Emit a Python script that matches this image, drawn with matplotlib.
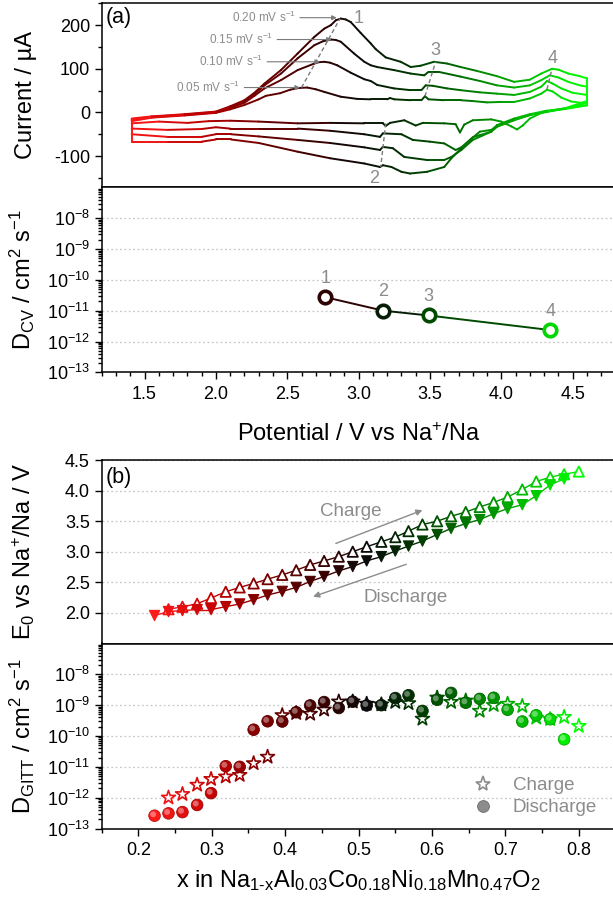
import numpy as np
import matplotlib
matplotlib.use('Agg')
import matplotlib.pyplot as plt
from matplotlib.colors import LinearSegmentedColormap, to_rgb
from matplotlib.collections import LineCollection
from matplotlib.ticker import MultipleLocator, FixedLocator, LogLocator, NullFormatter, LogFormatterMathtext, FormatStrFormatter
from matplotlib.lines import Line2D
import matplotlib.transforms as mtransforms

plt.rcParams['font.family'] = ['Liberation Sans', 'DejaVu Sans']
plt.rcParams['mathtext.fontset'] = 'custom'
plt.rcParams['mathtext.rm'] = 'Liberation Sans'
plt.rcParams['mathtext.it'] = 'Liberation Sans:italic'
plt.rcParams['mathtext.bf'] = 'Liberation Sans:bold'
plt.rcParams['axes.unicode_minus'] = False

# ---------------- CV data (V vs Na+/Na, current in uA) ----------------
scan_rates = ['0.05', '0.10', '0.15', '0.20']

cv_v_ano_005 = [1.41,1.55,1.78,2.00,2.10,2.20,2.30,2.35,2.45,2.52,2.58,2.64,2.70,2.76,2.875,2.99,3.085,3.20,3.22,3.25,3.365,3.44,3.465,3.49,3.60,3.715,3.80,3.90,4.00,4.09,4.20,4.28,4.32,4.36,4.42,4.49,4.56,4.60]
cv_i_ano_005 = [-20,-12,-7,-1,7,17,30,38,44,52,56,57,53,47,36,31,30,30,33,30,28,28,37,30,28,28,26,23,24,24,32,43,52,48,34,25,22,21]
cv_v_cat_005 = [1.41,1.60,1.80,1.95,2.10,2.30,2.57,2.80,3.04,3.17,3.19,3.22,3.32,3.40,3.45,3.60,3.68,3.71,3.74,3.80,3.93,4.00,4.07,4.11,4.15,4.20,4.30,4.45,4.60]
cv_i_cat_005 = [-25,-21,-24,-20,-19,-21,-25,-24,-25,-25,-31,-24,-18,-30,-24,-25,-27,-46,-28,-18,-16,-21,-32,-39,-30,-14,2,8,16]

cv_v_ano_010 = [1.41,1.55,1.78,2.00,2.10,2.20,2.27,2.34,2.456,2.573,2.69,2.72,2.76,2.80,2.85,2.945,3.04,3.085,3.13,3.248,3.365,3.44,3.47,3.52,3.62,3.715,3.85,3.97,4.09,4.20,4.28,4.32,4.36,4.42,4.50,4.60]
cv_i_ano_010 = [-18,-11,-6,0,10,22,38,55,74,97,112,115,116,114,108,91,76,72,63,55,51,51,62,61,55,51,46,43,40,47,59,72,66,55,45,40]
cv_v_cat_010 = [1.41,1.66,1.90,2.00,2.10,2.30,2.573,2.80,3.04,3.15,3.17,3.30,3.38,3.50,3.60,3.68,3.72,3.78,3.85,3.93,3.97,4.09,4.20,4.32,4.45,4.60]
cv_i_cat_010 = [-37,-40,-38,-34,-37,-37,-37,-42,-50,-56,-48,-50,-63,-67,-71,-86,-80,-63,-44,-40,-30,-17,-6,2,10,26]

cv_v_ano_015 = [1.41,1.55,1.78,2.00,2.10,2.20,2.27,2.34,2.456,2.573,2.69,2.75,2.806,2.84,2.875,2.968,3.04,3.085,3.13,3.248,3.365,3.46,3.49,3.56,3.715,3.85,3.97,4.09,4.20,4.28,4.34,4.40,4.47,4.55,4.60]
cv_i_ano_015 = [-16,-10,-5,1,12,26,42,62,89,124,154,163,167,166,162,135,116,108,104,97,89,85,93,93,82,72,62,57,62,74,85,80,70,62,59]
cv_v_cat_015 = [1.41,1.66,1.90,2.00,2.106,2.30,2.573,2.80,3.04,3.15,3.17,3.24,3.32,3.48,3.60,3.65,3.72,3.80,3.93,3.97,4.09,4.20,4.32,4.45,4.60]
cv_i_cat_015 = [-50,-56,-56,-50,-50,-55,-63,-70,-80,-86,-79,-82,-102,-109,-109,-102,-86,-63,-44,-33,-18,-6,1,9,22]

cv_v_ano_020 = [1.41,1.55,1.78,2.00,2.10,2.20,2.27,2.34,2.456,2.573,2.69,2.76,2.806,2.84,2.875,2.91,2.945,3.015,3.085,3.12,3.19,3.295,3.365,3.435,3.528,3.62,3.715,3.83,3.97,4.09,4.20,4.28,4.355,4.40,4.47,4.55,4.60]
cv_i_ano_020 = [-14,-9,-4,2,14,28,45,66,97,135,173,192,200,211,215,213,207,182,158,145,126,116,104,107,116,112,104,95,83,70,75,89,100,98,89,83,78]
cv_v_cat_020 = [1.41,1.66,1.90,2.00,2.106,2.30,2.573,2.80,3.04,3.15,3.17,3.23,3.30,3.36,3.48,3.60,3.65,3.72,3.80,3.85,3.93,3.97,4.09,4.20,4.32,4.45,4.60]
cv_i_cat_020 = [-67,-67,-67,-62,-62,-70,-90,-105,-117,-125,-121,-125,-136,-140,-136,-125,-105,-82,-57,-52,-44,-29,-14,-4,4,9,17]

# peak guide lines (dashed) : start/end (V, I)
peak_line_v = [[2.60, 2.87], [3.19, 3.155], [3.465, 3.54], [4.32, 4.355]]
peak_line_i = [[57, 215], [-25, -125], [37, 116], [53, 100]]
peak_labels = ['1', '2', '3', '4']
peak_label_v = [3.00, 3.11, 3.54, 4.36]
peak_label_i = [215, -151, 143, 124]

# scan rate annotation: arrow target (V, I) and text right end
rate_target_v = [2.59, 2.73, 2.812, 2.847]
rate_target_i = [57, 116, 167, 217]
rate_text_v = [2.17, 2.33, 2.40, 2.56]

# ---------------- D_CV data ----------------
dcv_v = [2.766, 3.174, 3.49, 4.344]
dcv_d = [2.75e-11, 1.0e-11, 7.0e-12, 2.35e-12]
dcv_labels = ['1', '2', '3', '4']

# ---------------- GITT data ----------------
x_charge = [0.241,0.260,0.280,0.299,0.319,0.338,0.357,0.376,0.396,0.415,0.434,0.453,0.473,0.492,0.511,0.531,0.550,0.568,0.587,0.607,0.626,0.646,0.665,0.684,0.703,0.723,0.742,0.761,0.780,0.800]
e0_charge = [2.06,2.10,2.15,2.244,2.346,2.417,2.482,2.552,2.622,2.698,2.785,2.850,2.920,3.001,3.082,3.163,3.239,3.337,3.445,3.499,3.580,3.650,3.732,3.807,3.894,4.018,4.148,4.219,4.267,4.311]
x_discharge = [0.222,0.241,0.260,0.280,0.299,0.319,0.338,0.357,0.376,0.396,0.415,0.434,0.453,0.473,0.492,0.511,0.531,0.550,0.568,0.587,0.607,0.626,0.646,0.665,0.684,0.703,0.723,0.742,0.761,0.780]
e0_discharge = [1.957,2.022,2.038,2.054,2.054,2.103,2.146,2.216,2.292,2.352,2.417,2.514,2.595,2.687,2.758,2.850,2.920,3.012,3.093,3.174,3.282,3.380,3.461,3.526,3.623,3.705,3.769,3.916,4.094,4.192]

d_charge = [1.0e-12,1.3e-12,2.6e-12,4.0e-12,4.8e-12,5.4e-12,1.3e-11,2.1e-11,4.7e-10,5.5e-10,5.2e-10,7.1e-10,1.3e-9,1.3e-9,1.1e-9,1.05e-9,1.26e-9,1.15e-9,3.6e-10,1.74e-9,1.26e-9,1.4e-9,6.5e-10,1.0e-9,1.1e-9,9.3e-10,3.9e-10,3.5e-10,4.1e-10,2.1e-10]
d_discharge = [2.6e-13,3.1e-13,3.4e-13,5.8e-13,1.4e-12,1.05e-11,1.0e-11,1.6e-10,3.0e-10,2.95e-10,5.9e-10,9.8e-10,1.26e-9,8.1e-10,1.3e-9,9.8e-10,1.0e-9,1.7e-9,2.1e-9,6.5e-10,1.5e-9,2.5e-9,1.2e-9,1.6e-9,1.74e-9,7.1e-10,2.95e-10,4.7e-10,3.5e-10,7.8e-11]

# ---------------- styling ----------------
cmap = LinearSegmentedColormap.from_list('rg', [
    (0.0, '#ff1a1a'), (0.15, '#c00000'), (0.25, '#800000'), (0.40, '#3a0000'),
    (0.50, '#0a0a0a'), (0.60, '#003000'), (0.70, '#006000'), (0.85, '#00b000'),
    (1.0, '#00ff00')])

def c_v(v):
    return cmap(np.clip((np.asarray(v) - 1.4) / 3.2, 0, 1))

def c_x(x):
    return cmap(np.clip((np.asarray(x) - 0.22) / 0.58, 0, 1))

GRAY = '#8c8c8c'
TICK = 13

fig = plt.figure(figsize=(6.13, 9.05), dpi=100)
L, W = 101.7 / 613, (615.5 - 101.7) / 613
def ax_at(top_px, bot_px):
    return fig.add_axes([L, 1 - bot_px / 905, W, (bot_px - top_px) / 905])

ax1 = ax_at(3.3, 187.5)
ax2 = ax_at(187.5, 372.3)
ax3 = ax_at(460.0, 643.5)
ax4 = ax_at(643.5, 828.5)

for ax in (ax1, ax2, ax3, ax4):
    for s in ax.spines.values():
        s.set_linewidth(1.1)
    ax.tick_params(which='both', direction='out', top=False, right=False,
                   labelsize=TICK, width=1.0)
    ax.tick_params(which='major', length=5)
    ax.tick_params(which='minor', length=3)

# ---------------- panel (a) CV ----------------
def loop_lc(va, ia, vc, ic):
    v = np.concatenate([va, vc[::-1], va[:1]])
    i = np.concatenate([ia, ic[::-1], ia[:1]])
    pts = np.column_stack([v, i])
    segs = np.stack([pts[:-1], pts[1:]], axis=1)
    cols = c_v((v[:-1] + v[1:]) / 2)
    return LineCollection(segs, colors=cols, linewidths=1.4, capstyle='round', joinstyle='round')

for va, ia, vc, ic in [
        (cv_v_ano_005, cv_i_ano_005, cv_v_cat_005, cv_i_cat_005),
        (cv_v_ano_010, cv_i_ano_010, cv_v_cat_010, cv_i_cat_010),
        (cv_v_ano_015, cv_i_ano_015, cv_v_cat_015, cv_i_cat_015),
        (cv_v_ano_020, cv_i_ano_020, cv_v_cat_020, cv_i_cat_020)]:
    ax1.add_collection(loop_lc(np.array(va), np.array(ia), np.array(vc), np.array(ic)))

for pv, pi in zip(peak_line_v, peak_line_i):
    ax1.plot(pv, pi, ls=(0, (3, 2)), color='#7a7a7a', lw=1.0, zorder=3)
for lbl, pv, pi in zip(peak_labels, peak_label_v, peak_label_i):
    ax1.text(pv, pi, lbl, color=GRAY, fontsize=13, ha='center', va='center')
for rate, tv, ti, xv in zip(scan_rates, rate_target_v, rate_target_i, rate_text_v):
    ax1.annotate(rate + r' mV s$^{-1}$', xy=(tv, ti), xytext=(xv, ti),
                 color=GRAY, fontsize=8.5, ha='right', va='center',
                 arrowprops=dict(arrowstyle='-|>', color='#7a7a7a', lw=0.8,
                                 mutation_scale=7, shrinkA=1, shrinkB=0))

ax1.set_xlim(1.2, 4.8)
ax1.set_ylim(-172, 250)
ax1.xaxis.set_major_locator(MultipleLocator(0.5))
ax1.xaxis.set_minor_locator(MultipleLocator(0.25))
ax1.yaxis.set_major_locator(FixedLocator([-100, 0, 100, 200]))
ax1.yaxis.set_minor_locator(MultipleLocator(50))
ax1.tick_params(axis='x', labelbottom=False)
ax1.set_ylabel('Current / µA', fontsize=17)
ax1.text(0.008, 0.925, '(a)', transform=ax1.transAxes, fontsize=15.5, ha='left', va='center')

# ---------------- D_CV ----------------
dcv_cols = c_v(dcv_v)
for k in range(len(dcv_v) - 1):
    ax2.plot(dcv_v[k:k + 2], dcv_d[k:k + 2], color=dcv_cols[k], lw=1.4, zorder=2)
for k in range(len(dcv_v)):
    ax2.plot([dcv_v[k]], [dcv_d[k]], 'o', ms=9, mfc='white', mec=dcv_cols[k], mew=2.6, zorder=3)
    ax2.annotate(dcv_labels[k], (dcv_v[k], dcv_d[k]), xytext=(0, 7.5), textcoords='offset points',
                 ha='center', va='bottom', color=GRAY, fontsize=13)
ax2.set_yscale('log')
ax2.set_xlim(1.2, 4.8)
ax2.set_ylim(1e-13, 1e-7)
ax2.xaxis.set_major_locator(MultipleLocator(0.5))
ax2.xaxis.set_minor_locator(MultipleLocator(0.1))
ax2.xaxis.set_major_formatter(FormatStrFormatter('%.1f'))
ax2.yaxis.set_major_locator(FixedLocator([1e-13, 1e-12, 1e-11, 1e-10, 1e-9, 1e-8]))
ax2.yaxis.set_major_formatter(LogFormatterMathtext())
ax2.yaxis.set_minor_locator(LogLocator(base=10, subs=np.arange(2, 10) * 1.0, numticks=30))
ax2.yaxis.set_minor_formatter(NullFormatter())
ax2.grid(axis='y', which='major', ls=(0, (1.5, 2)), color='#c8c8c8', lw=0.9)
ax2.set_ylabel(r'D$_{\mathrm{CV}}$ / cm$^2$ s$^{-1}$', fontsize=17)
ax2.set_xlabel(r'Potential / V vs Na$^{+}$/Na', fontsize=17)
ax2.tick_params(axis='x', pad=5)

# ---------------- panel (b) E0 ----------------
cc = c_x(x_charge)
cd = c_x(x_discharge)
for k in range(len(x_charge) - 1):
    ax3.plot(x_charge[k:k + 2], e0_charge[k:k + 2], color=cc[k], lw=1.0, zorder=2)
for k in range(len(x_discharge) - 1):
    ax3.plot(x_discharge[k:k + 2], e0_discharge[k:k + 2], color=cd[k], lw=1.0, zorder=2)
ax3.scatter(x_charge, e0_charge, marker='^', s=55, facecolors='white', edgecolors=cc, linewidths=1.3, zorder=3)
ax3.scatter(x_discharge, e0_discharge, marker='v', s=55, c=cd, edgecolors=cd, linewidths=0.8, zorder=4)
ax3.annotate('', xy=(0.587, 3.68), xytext=(0.469, 3.136),
             arrowprops=dict(arrowstyle='-|>', color=GRAY, lw=1.0, mutation_scale=9, shrinkA=0, shrinkB=0))
ax3.annotate('', xy=(0.438, 2.265), xytext=(0.565, 2.795),
             arrowprops=dict(arrowstyle='-|>', color=GRAY, lw=1.0, mutation_scale=9, shrinkA=0, shrinkB=0))
ax3.text(0.4896, 3.66, 'Charge', color=GRAY, fontsize=13.5, ha='center', va='center')
ax3.text(0.5647, 2.25, 'Discharge', color=GRAY, fontsize=13.5, ha='center', va='center')
ax3.set_xlim(0.15, 0.85)
ax3.set_ylim(1.5, 4.5)
ax3.xaxis.set_major_locator(MultipleLocator(0.1))
ax3.xaxis.set_minor_locator(MultipleLocator(0.05))
ax3.yaxis.set_major_locator(FixedLocator([2.0, 2.5, 3.0, 3.5, 4.0, 4.5]))
ax3.yaxis.set_major_formatter(FormatStrFormatter('%.1f'))
ax3.tick_params(axis='x', labelbottom=False)
ax3.grid(axis='y', which='major', ls=(0, (1.5, 2)), color='#c8c8c8', lw=0.9)
ax3.set_ylabel(r'E$_0$ vs Na$^{+}$/Na / V', fontsize=17)
ax3.text(0.008, 0.907, '(b)', transform=ax3.transAxes, fontsize=15.5, ha='left', va='center')

# ---------------- D_GITT ----------------
ax4.set_yscale('log')
ax4.scatter(x_charge, d_charge, marker='*', s=110, facecolors='white', edgecolors=cc, linewidths=1.2, zorder=3)
def lighten(c, f):
    c = np.array(to_rgb(c))
    return tuple(c + (1 - c) * f)
hl_tr = mtransforms.offset_copy(ax4.transData, fig=fig, x=-1.0, y=1.0, units='points')
dark = [tuple(np.array(c[:3]) * 0.75) for c in cd]
ax4.scatter(x_discharge, d_discharge, marker='o', s=70, c=cd, edgecolors=dark, linewidths=0.6, zorder=4)
ax4.scatter(x_discharge, d_discharge, marker='o', s=18, c=[lighten(c[:3], 0.45) for c in cd],
            edgecolors='none', alpha=0.85, zorder=5, transform=hl_tr)
ax4.set_xlim(0.15, 0.85)
ax4.set_ylim(1e-13, 1e-7)
ax4.xaxis.set_major_locator(MultipleLocator(0.1))
ax4.xaxis.set_minor_locator(MultipleLocator(0.05))
ax4.xaxis.set_major_formatter(FormatStrFormatter('%.1f'))
ax4.yaxis.set_major_locator(FixedLocator([1e-13, 1e-12, 1e-11, 1e-10, 1e-9, 1e-8]))
ax4.yaxis.set_major_formatter(LogFormatterMathtext())
ax4.yaxis.set_minor_locator(LogLocator(base=10, subs=np.arange(2, 10) * 1.0, numticks=30))
ax4.yaxis.set_minor_formatter(NullFormatter())
ax4.grid(axis='y', which='major', ls=(0, (1.5, 2)), color='#c8c8c8', lw=0.9)
ax4.set_ylabel(r'D$_{\mathrm{GITT}}$ / cm$^2$ s$^{-1}$', fontsize=17)
ax4.set_xlabel(r'x in Na$_{\mathrm{1\text{-}x}}$Al$_{\mathrm{0.03}}$Co$_{\mathrm{0.18}}$Ni$_{\mathrm{0.18}}$Mn$_{\mathrm{0.47}}$O$_{\mathrm{2}}$', fontsize=17)
ax4.tick_params(axis='x', pad=5)

h_star = Line2D([], [], marker='*', ls='none', ms=11, mfc='white', mec=GRAY, mew=1.2)
h_sph = Line2D([], [], marker='o', ls='none', ms=8.5, mfc=GRAY, mec='#6a6a6a', mew=0.6)
ax4.legend([h_star, h_sph], ['Charge', 'Discharge'], loc='lower right', bbox_to_anchor=(0.99, -0.005),
           frameon=False, fontsize=13.5, labelcolor=GRAY, handletextpad=1.0, labelspacing=0.25,
           borderpad=0.2, handlelength=1.2)

for ax in (ax1, ax2, ax3, ax4):
    ax.yaxis.set_label_coords(-0.125, 0.5)
ax2.xaxis.set_label_coords(0.5, -0.275)
ax4.xaxis.set_label_coords(0.5, -0.215)

fig.savefig('out.png', dpi=100)
